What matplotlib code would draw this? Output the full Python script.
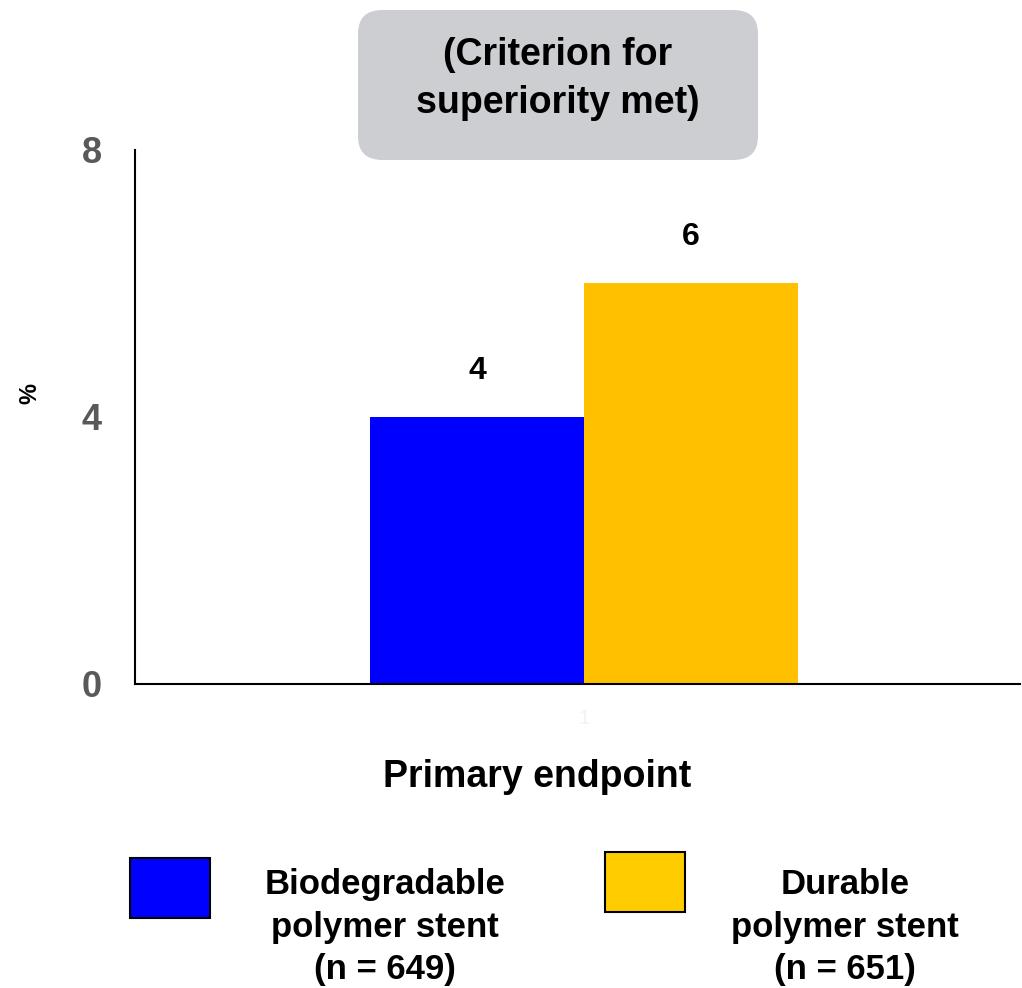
import matplotlib
matplotlib.use("Agg")
import matplotlib.pyplot as plt
from matplotlib.patches import FancyBboxPatch, Rectangle

plt.rcParams['font.family'] = ['Liberation Sans', 'DejaVu Sans']

groups = ["Biodegradable\npolymer stent\n(n = 649)", "Durable\npolymer stent\n(n = 651)"]
values = [4, 6]
bar_colors = ["#0000FF", "#FFC000"]
legend_colors = ["#0000FF", "#FFCC00"]
yticks = [0, 4, 8]
category = 1

fig = plt.figure(figsize=(10.22, 9.88), dpi=100)
ax = fig.add_axes([0.132, 0.3077, 0.866, 0.5405])
ax.patch.set_visible(False)

width = 0.35
offsets = [-width / 2, width / 2]
for off, v, c in zip(offsets, values, bar_colors):
    ax.bar(category + off, v, width=width, color=c, zorder=2)
    ax.text(category + off, v + 0.47, str(v), ha='center', va='bottom',
            fontsize=23, fontweight='bold', color='black')

ax.set_xlim(0.265, 1.714)
ax.set_ylim(0, 8)
ax.set_yticks(yticks)
ax.set_yticklabels([str(t) for t in yticks], fontsize=26, fontweight='bold', color='#595959')
ax.set_xticks([category])
ax.set_xticklabels(["1"], fontsize=15, color='#f2f2f2')
ax.tick_params(length=0, pad=18)
ax.tick_params(axis='y', pad=24)
for s in ['top', 'right']:
    ax.spines[s].set_visible(False)
for s in ['left', 'bottom']:
    ax.spines[s].set_linewidth(1.5)
    ax.spines[s].set_color('black')

fig.text(30 / 1022, 1 - 393 / 988, "%", rotation=90, ha='center', va='center',
         fontsize=17, fontweight='bold')
fig.text(537 / 1022, 1 - 777 / 988, "Primary endpoint", ha='center', va='center',
         fontsize=27, fontweight='bold')

# rounded note box above the bars
box = FancyBboxPatch((358 / 1022, 1 - 160 / 988), 400 / 1022, 150 / 988,
                     boxstyle="round,pad=0,rounding_size=0.024",
                     transform=fig.transFigure, facecolor='#CDCED2',
                     edgecolor='none', zorder=0)
fig.add_artist(box)
fig.text(558 / 1022, 1 - 79 / 988, "(Criterion for\nsuperiority met)", ha='center',
         va='center', fontsize=27, fontweight='bold', linespacing=1.4)

# legend swatches and labels
sw = [(130, 858), (605, 852)]
tx = [385, 845]
for (x, y), t, c, lab in zip(sw, tx, legend_colors, groups):
    fig.add_artist(Rectangle((x / 1022, 1 - (y + 60) / 988), 80 / 1022, 60 / 988,
                             transform=fig.transFigure, facecolor=c,
                             edgecolor='black', linewidth=1.5))
    fig.text(t / 1022, 1 - 927 / 988, lab, ha='center', va='center',
             fontsize=25, fontweight='bold', linespacing=1.35)

fig.savefig("out.png", dpi=100, facecolor='white')
